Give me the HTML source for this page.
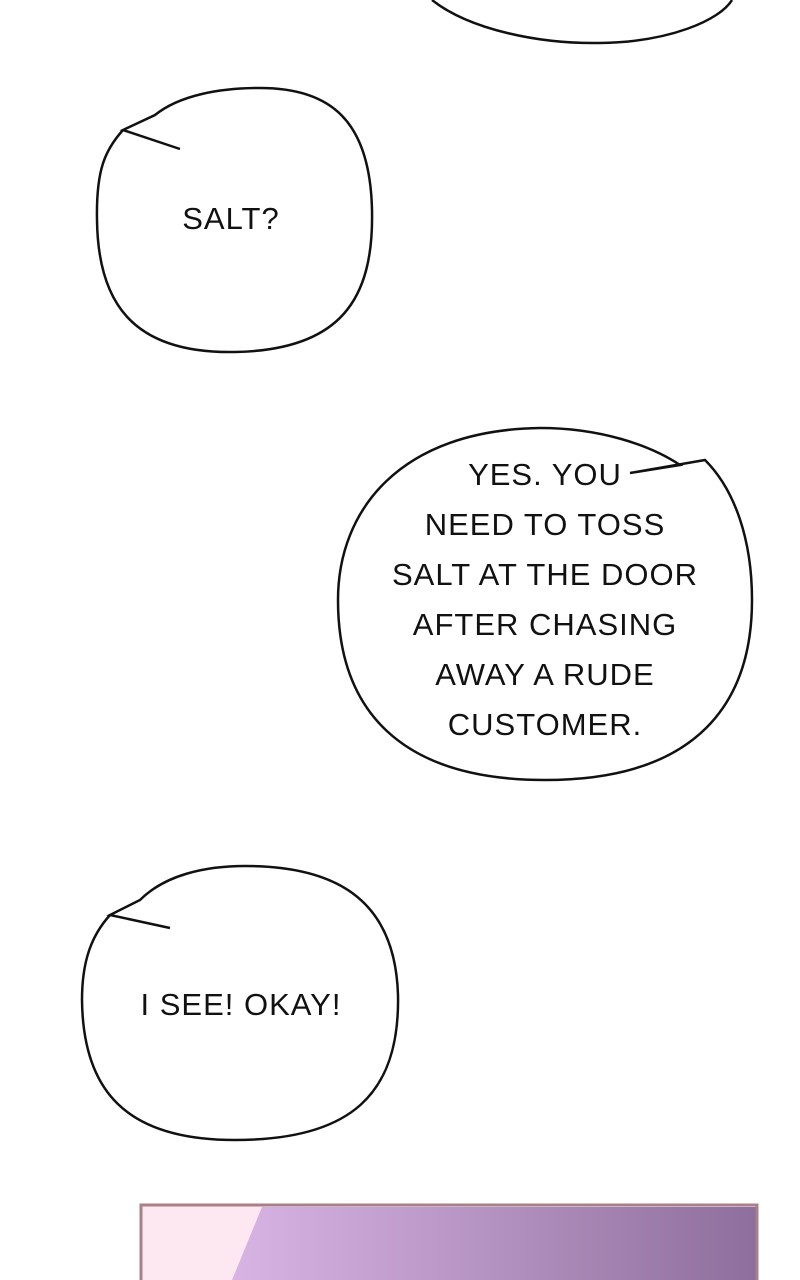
<!DOCTYPE html>
<html><head><style>
html,body{margin:0;padding:0;background:#fff;width:800px;height:1280px;overflow:hidden}
svg text{font-family:"Liberation Sans",sans-serif;font-size:31px;fill:#111;text-anchor:middle;letter-spacing:1px}
</style></head><body>
<svg width="800" height="1280" viewBox="0 0 800 1280" xmlns="http://www.w3.org/2000/svg">
<g fill="#fff" stroke="#111" stroke-width="2.5">
<path d="M432,0 C470,30 540,44 600,43 C670,42 720,20 732,0"/>
<path d="M180,149 L123,130 L155,115 C180,95 220,88 260,88 C330,88 370,120 372,210 C374,300 340,350 235,352 C130,354 98,300 97,220 C96,170 105,150 123,130"/>
<path d="M630,473 L705,460 C735,490 752,540 752,600 C752,700 700,780 545,780 C400,780 338,710 338,600 C338,510 400,430 540,428 C600,428 650,445 680,465 Z" />
<path d="M170,928 L110,915 L140,900 C165,875 205,866 245,866 C330,866 395,895 398,995 C400,1095 350,1140 235,1140 C125,1140 83,1090 82,1000 C82,960 92,935 110,915"/>
</g>
<text x="231" y="229">SALT?</text>
<text x="545" y="485">YES. YOU</text>
<text x="545" y="535">NEED TO TOSS</text>
<text x="545" y="585">SALT AT THE DOOR</text>
<text x="545" y="635">AFTER CHASING</text>
<text x="545" y="685">AWAY A RUDE</text>
<text x="545" y="735">CUSTOMER.</text>
<text x="241" y="1015">I SEE! OKAY!</text>
<defs><linearGradient id="h" x1="0" x2="1"><stop offset="0" stop-color="#d8b4e4"/><stop offset="1" stop-color="#8e6e9c"/></linearGradient></defs>
<rect x="141" y="1205" width="616" height="80" fill="#fde8f2"/>
<path d="M262,1207 L757,1207 L757,1280 L232,1280 Z" fill="url(#h)"/>
<rect x="141" y="1205" width="616" height="80" fill="none" stroke="#a88088" stroke-width="3"/>
</svg>
</body></html>
